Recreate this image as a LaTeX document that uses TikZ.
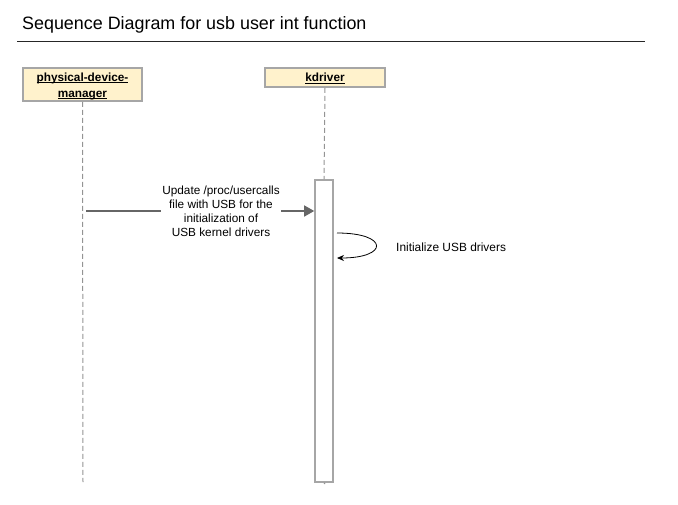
\documentclass[tikz,border=0pt]{standalone}
\usepackage{fontspec}
\setmainfont{Liberation Sans}
\usetikzlibrary{arrows.meta}
\definecolor{partfill}{HTML}{FFF2CC}
\definecolor{partdraw}{HTML}{A6A6A6}
\definecolor{msggray}{HTML}{666666}
\newsavebox{\ulbox}
\newcommand{\ulword}[1]{\sbox{\ulbox}{#1}\rlap{\rule[-2.2pt]{\wd\ulbox}{0.9pt}}\usebox{\ulbox}}
\tikzset{
  participant/.style={draw=partdraw, line width=1.6pt, fill=partfill, inner sep=0pt},
  parttext/.style={align=center, inner sep=0pt, font=\fontsize{11.8}{16}\selectfont\bfseries},
  lifeline/.style={draw=msggray!70, dash pattern=on 5pt off 3pt, line width=1pt},
  activation/.style={draw=partdraw, line width=1.6pt, fill=white, inner sep=0pt},
  msg/.style={draw=msggray, line width=1.5pt, -{Triangle[length=10pt,width=11pt]}},
  msglabel/.style={fill=white, align=center, font=\fontsize{11.8}{14}\selectfont, inner sep=1pt},
  selfmsg/.style={draw=black, line width=0.8pt, -{Stealth[length=7pt,width=6pt]}},
}
\begin{document}
\begin{tikzpicture}[x=1pt,y=-1pt]
\useasboundingbox (0,0) rectangle (678,504);
% title
\node[anchor=base west, inner sep=0pt, font=\fontsize{17.9}{21}\selectfont] (title) at (22,29) {Sequence Diagram for usb user int function};
\coordinate (tl) at (17,41);
\coordinate (tr) at (645,41);
\draw[line width=0.8pt, black!85] (tl) -- (tr);
% participants
\node[participant, minimum width=119pt, minimum height=33pt] (pdm) at (82.5,84.5) {};
\node[parttext, anchor=base] (pdmt1) at (82.5,81) {\ulword{physical-device-}};
\node[parttext, anchor=base] (pdmt2) at (82.5,97) {\ulword{manager}};
\node[participant, minimum width=120pt, minimum height=19pt] (kd) at (325,77.5) {};
\node[parttext, anchor=base] (kdt) at (325,81.5) {\ulword{kdriver}};
% lifelines
\coordinate (pdmend) at (83,482);
\draw[lifeline] (pdm.south) -- (pdmend);
\node[activation, minimum width=18pt, minimum height=302pt] (act) at (324,331) {};
\coordinate (kdend) at (325,484);
\draw[lifeline] (kd.south) -- (act.north);
\draw[lifeline] (act.south) -- (kdend);
% message
\coordinate (m1s) at (86,211);
\coordinate (m1e) at (act.west |- m1s);
\draw[msg] (m1s) -- (m1e);
\node[msglabel] (m1l) at (221,211) {Update /proc/usercalls\\file with USB for the\\initialization of\\USB kernel drivers};
% self message
\coordinate (s1) at (337,233);
\coordinate (s2) at (337,258);
\draw[selfmsg] (s1) .. controls (389,233) and (389,258) .. (s2);
\node[anchor=west, inner sep=0pt, font=\fontsize{11.9}{13}\selectfont] (s1l) at (396,247) {Initialize USB drivers};
\end{tikzpicture}
\end{document}
